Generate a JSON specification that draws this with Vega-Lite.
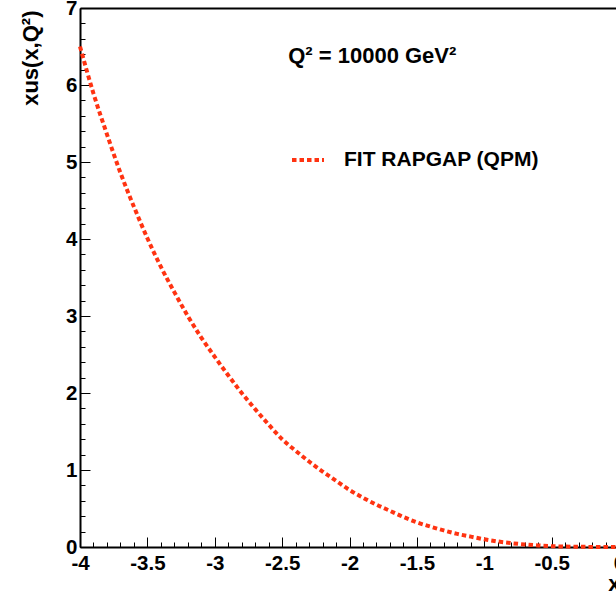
{
  "$schema": "https://vega.github.io/schema/vega-lite/v6.json",
  "width": 536,
  "height": 539,
  "autosize": {"type": "none"},
  "padding": {"left": 80, "top": 8, "right": 0, "bottom": 44},
  "background": "white",
  "config": {
    "view": {"stroke": null},
    "font": "Liberation Sans",
    "axis": {
      "domainColor": "black",
      "domainWidth": 2,
      "tickColor": "black",
      "tickWidth": 1,
      "labelColor": "black",
      "labelFont": "Liberation Sans",
      "labelFontWeight": "bold",
      "labelFontSize": 20.5,
      "labelFlush": false,
      "labelOverlap": false,
      "labelBound": false,
      "titleColor": "black",
      "titleFont": "Liberation Sans",
      "titleFontWeight": "bold",
      "grid": false
    }
  },
  "datasets": {
    "curve": [
      {"x": -4.0, "y": 6.50}, {"x": -3.9, "y": 5.89}, {"x": -3.8, "y": 5.36},
      {"x": -3.7, "y": 4.86}, {"x": -3.6, "y": 4.42}, {"x": -3.5, "y": 4.01},
      {"x": -3.4, "y": 3.64}, {"x": -3.3, "y": 3.31}, {"x": -3.2, "y": 3.00},
      {"x": -3.1, "y": 2.72}, {"x": -3.0, "y": 2.47}, {"x": -2.9, "y": 2.23},
      {"x": -2.8, "y": 2.00}, {"x": -2.7, "y": 1.79}, {"x": -2.6, "y": 1.59},
      {"x": -2.5, "y": 1.40}, {"x": -2.4, "y": 1.25}, {"x": -2.3, "y": 1.11},
      {"x": -2.2, "y": 0.98}, {"x": -2.1, "y": 0.86}, {"x": -2.0, "y": 0.74},
      {"x": -1.9, "y": 0.64}, {"x": -1.8, "y": 0.55}, {"x": -1.7, "y": 0.47},
      {"x": -1.6, "y": 0.39}, {"x": -1.5, "y": 0.32}, {"x": -1.4, "y": 0.265},
      {"x": -1.3, "y": 0.215}, {"x": -1.2, "y": 0.17}, {"x": -1.1, "y": 0.135},
      {"x": -1.0, "y": 0.10}, {"x": -0.9, "y": 0.072}, {"x": -0.8, "y": 0.05},
      {"x": -0.7, "y": 0.033}, {"x": -0.6, "y": 0.02}, {"x": -0.5, "y": 0.011},
      {"x": -0.4, "y": 0.006}, {"x": -0.3, "y": 0.003}, {"x": -0.2, "y": 0.0012},
      {"x": -0.1, "y": 0.0003}, {"x": 0.0, "y": 0.0}
    ],
    "note": [
      {"x": -2.455, "y": 6.38, "label": "Q² = 10000 GeV²"}
    ]
  },
  "layer": [
    {
      "data": {"name": "curve"},
      "mark": {"type": "line", "strokeWidth": 4, "strokeDash": [4.5, 3], "interpolate": "monotone", "clip": false},
      "encoding": {
        "x": {
          "field": "x", "type": "quantitative",
          "scale": {"domain": [-4, 0], "range": [0, 539], "nice": false, "zero": false},
          "axis": {
            "orient": "bottom",
            "values": [-4, -3.5, -3, -2.5, -2, -1.5, -1, -0.5, 0],
            "labelExpr": "toString(datum.value)",
            "tickSize": -10,
            "labelPadding": 16,
            "title": "x",
            "titleFontSize": 22,
            "titleAnchor": "end",
            "titleAlign": "right",
            "titleX": 540,
            "titleY": 43,
            "titleBaseline": "alphabetic"
          }
        },
        "y": {
          "field": "y", "type": "quantitative",
          "scale": {"domain": [0, 7], "nice": false, "zero": false},
          "axis": {
            "orient": "left",
            "values": [0, 1, 2, 3, 4, 5, 6, 7],
            "labelExpr": "toString(datum.value)",
            "tickSize": -10,
            "labelPadding": 13,
            "title": "xus(x,Q²)",
            "titleFontSize": 22,
            "titleAngle": -90,
            "titleAnchor": "end",
            "titleAlign": "right",
            "titleBaseline": "middle",
            "titleX": -50,
            "titleY": 2
          }
        },
        "color": {
          "datum": "FIT RAPGAP (QPM)",
          "type": "nominal",
          "scale": {"range": ["#ff3311"]},
          "legend": {
            "title": null,
            "orient": "none",
            "legendX": 210,
            "legendY": 134,
            "padding": 0,
            "symbolType": "stroke",
            "symbolSize": 1024,
            "symbolStrokeWidth": 4,
            "symbolDash": [4.5, 3],
            "labelFont": "Liberation Sans",
            "labelFontWeight": "bold",
            "labelFontSize": 21,
            "labelColor": "black",
            "labelOffset": 18,
            "labelLimit": 400
          }
        }
      }
    },
    {
      "data": {"name": "note"},
      "mark": {"type": "text", "align": "left", "baseline": "middle", "fontSize": 22, "fontWeight": "bold", "font": "Liberation Sans", "color": "black"},
      "encoding": {
        "x": {
          "field": "x", "type": "quantitative",
          "axis": {
            "orient": "bottom",
            "values": [-4, -3.9, -3.8, -3.7, -3.6, -3.5, -3.4, -3.3, -3.2, -3.1, -3, -2.9, -2.8, -2.7, -2.6, -2.5, -2.4, -2.3, -2.2, -2.1, -2, -1.9, -1.8, -1.7, -1.6, -1.5, -1.4, -1.3, -1.2, -1.1, -1, -0.9, -0.8, -0.7, -0.6, -0.5, -0.4, -0.3, -0.2, -0.1, 0],
            "tickSize": -5,
            "labels": false,
            "domain": false,
            "title": null
          }
        },
        "y": {
          "field": "y", "type": "quantitative",
          "axis": {
            "orient": "left",
            "values": [0, 0.2, 0.4, 0.6, 0.8, 1, 1.2, 1.4, 1.6, 1.8, 2, 2.2, 2.4, 2.6, 2.8, 3, 3.2, 3.4, 3.6, 3.8, 4, 4.2, 4.4, 4.6, 4.8, 5, 5.2, 5.4, 5.6, 5.8, 6, 6.2, 6.4, 6.6, 6.8, 7],
            "tickSize": -5,
            "labels": false,
            "domain": false,
            "title": null
          }
        },
        "text": {"field": "label", "type": "nominal"}
      }
    },
    {
      "data": {"name": "note"},
      "mark": {"type": "text", "text": ""},
      "encoding": {
        "x": {
          "field": "x", "type": "quantitative",
          "axis": {"orient": "top", "ticks": false, "labels": false, "domain": true, "title": null}
        },
        "y": {"field": "y", "type": "quantitative", "axis": null}
      }
    }
  ],
  "resolve": {"axis": {"x": "independent", "y": "independent"}}
}
